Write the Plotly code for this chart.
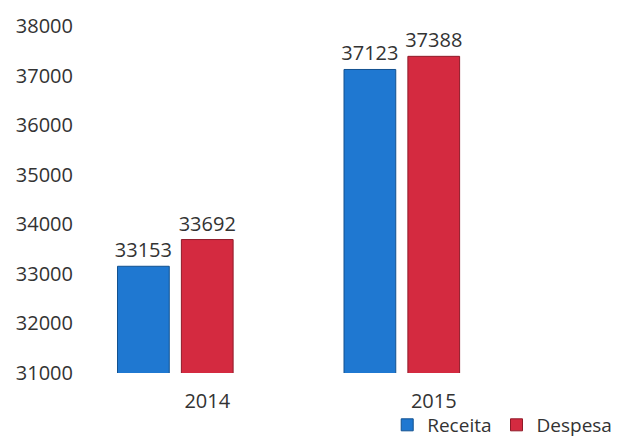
import plotly.graph_objects as go

categories = ["2014", "2015"]
receita = [33153, 37123]
despesa = [33692, 37388]
saldo = [None, None]  # empty third series (reserves its slot, as in the original)
y_ticks = [31000, 32000, 33000, 34000, 35000, 36000, 37000, 38000]

FONT = "Open Sans"
TXT = "#333333"

fig = go.Figure()
fig.add_trace(go.Bar(
    name="Receita", x=categories, y=receita,
    marker=dict(color="#1f78d1", line=dict(color="#12518f", width=1)),
    text=[str(v) for v in receita], textposition="outside",
    textfont=dict(family=FONT, size=20, color=TXT), cliponaxis=False,
))
fig.add_trace(go.Bar(
    name="Despesa", x=categories, y=despesa,
    marker=dict(color="#d42a40", line=dict(color="#8f1a28", width=1)),
    text=[str(v) for v in despesa], textposition="outside",
    textfont=dict(family=FONT, size=20, color=TXT), cliponaxis=False,
))
fig.add_trace(go.Bar(
    name="", x=categories, y=saldo, showlegend=False,
    marker=dict(color="rgba(0,0,0,0)"), hoverinfo="skip",
))

fig.update_layout(
    width=622, height=437,
    margin=dict(l=86, r=83, t=18, b=72, autoexpand=False),
    paper_bgcolor="white", plot_bgcolor="white",
    barmode="group", bargap=0.154, bargroupgap=0.19,
    font=dict(family=FONT, size=20, color=TXT),
    showlegend=True,
    legend=dict(orientation="h", x=1.155, xanchor="right", y=-0.095, yanchor="top",
                font=dict(family=FONT, size=19, color=TXT),
                itemwidth=30, tracegroupgap=0, bgcolor="rgba(0,0,0,0)"),
    uniformtext=dict(mode="show", minsize=20),
)
fig.update_yaxes(range=[31000, 38000], tickvals=y_ticks, ticktext=[str(v) for v in y_ticks],
                 showgrid=False, zeroline=False, showline=False, ticks="",
                 ticklabelstandoff=20, tickfont=dict(family=FONT, size=20, color=TXT))
fig.update_xaxes(showgrid=False, showline=False, ticks="", ticklabelstandoff=14,
                 tickfont=dict(family=FONT, size=20, color=TXT))

fig.write_html("out.html")
